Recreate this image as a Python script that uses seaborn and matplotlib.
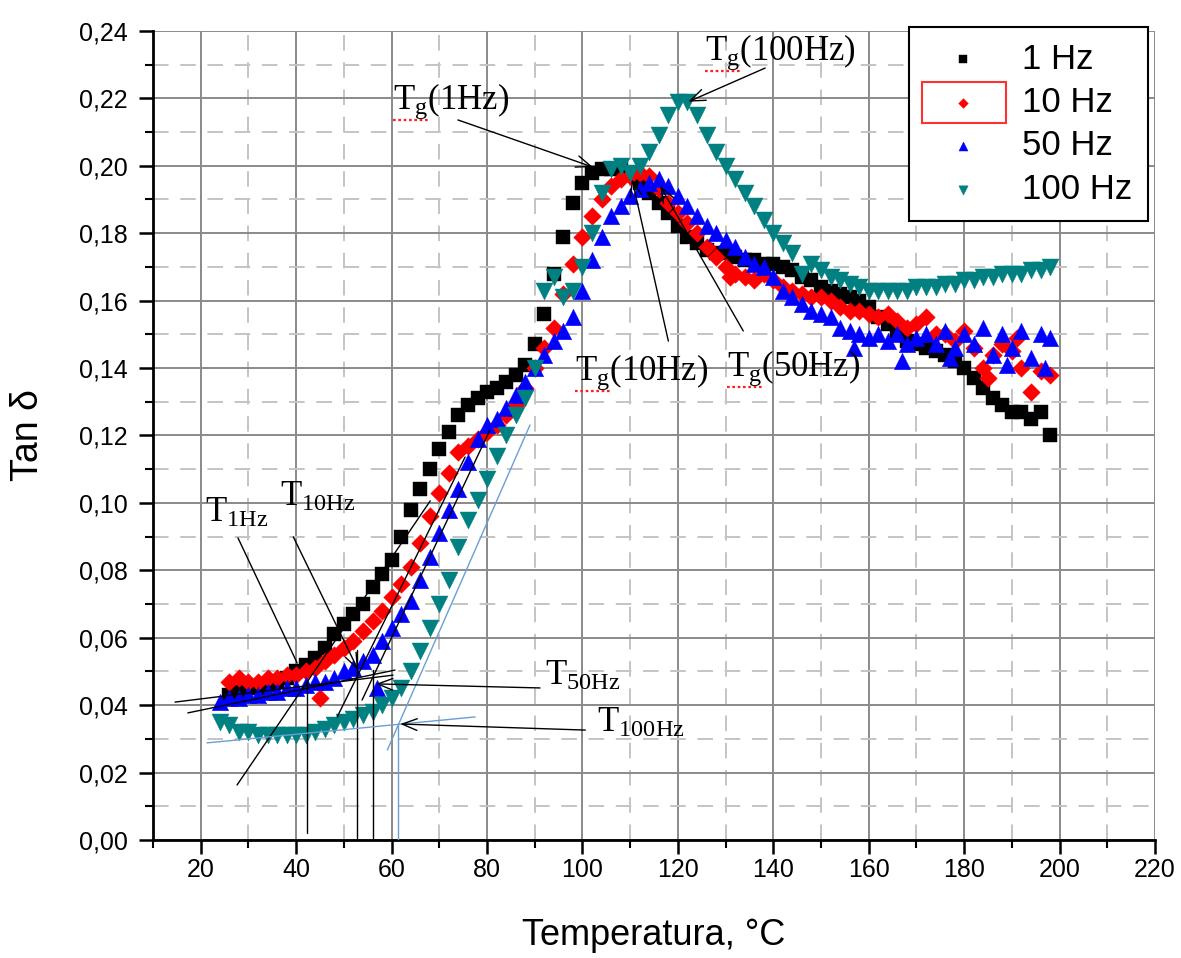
import matplotlib
matplotlib.use("Agg")
import matplotlib.pyplot as plt
from matplotlib.ticker import MultipleLocator, FuncFormatter
from matplotlib.patches import Rectangle
from matplotlib.lines import Line2D
import numpy as np
import pandas as pd
import seaborn as sns

# ---------------- data ----------------
temp_1hz = [26, 28, 30, 32, 34, 36, 38, 40, 42, 44, 46, 48, 50, 52, 54, 56, 58, 60,
            62, 64, 66, 68, 70, 72, 74, 76, 78, 80, 82, 84, 86, 88, 90, 92, 94, 96,
            98, 100, 102, 104, 106, 108, 110, 112, 114, 116, 118, 120, 122, 124, 126,
            128, 130, 132, 134, 136, 138, 140, 142, 144, 146, 148, 150, 152, 154, 156,
            158, 160, 162, 164, 166, 168, 170, 172, 174, 176, 178, 180, 182, 184, 186,
            188, 190, 192, 194, 196, 198]
tan_1hz = [0.043, 0.044, 0.045, 0.045, 0.046, 0.047, 0.048, 0.050, 0.052, 0.054, 0.057,
           0.061, 0.064, 0.067, 0.070, 0.075, 0.079, 0.083, 0.090, 0.098, 0.104, 0.110,
           0.116, 0.121, 0.126, 0.129, 0.131, 0.133, 0.134, 0.136, 0.138, 0.141, 0.147,
           0.156, 0.168, 0.179, 0.189, 0.195, 0.198, 0.199, 0.199, 0.199, 0.198, 0.195,
           0.192, 0.189, 0.186, 0.182, 0.179, 0.177, 0.175, 0.174, 0.174, 0.173, 0.172,
           0.172, 0.171, 0.171, 0.170, 0.169, 0.167, 0.166, 0.164, 0.163, 0.162, 0.161,
           0.160, 0.158, 0.155, 0.153, 0.150, 0.148, 0.147, 0.146, 0.145, 0.144, 0.142,
           0.140, 0.137, 0.134, 0.131, 0.129, 0.127, 0.127, 0.125, 0.127, 0.120]

temp_10hz = [26, 28, 30, 32, 34, 36, 38, 40, 42, 44, 46, 48, 50, 52, 54, 56, 58, 60,
             62, 64, 66, 68, 70, 72, 74, 76, 78, 80, 82, 84, 86, 88, 90, 92, 94, 96,
             98, 100, 102, 104, 106, 108, 110, 112, 114, 116, 118, 120, 122, 124, 126,
             128, 130, 132, 134, 136, 138, 140, 142, 144, 146, 148, 150, 152, 154, 156,
             158, 160, 162, 164, 166, 168, 170, 172, 174, 176, 178, 180, 182, 184, 186,
             188, 190, 192, 194, 196, 198, 45, 131, 185, 191]
tan_10hz = [0.047, 0.048, 0.047, 0.047, 0.048, 0.048, 0.049, 0.049, 0.050, 0.051, 0.053,
            0.055, 0.057, 0.059, 0.062, 0.065, 0.068, 0.072, 0.076, 0.081, 0.088, 0.096,
            0.103, 0.109, 0.115, 0.117, 0.119, 0.121, 0.123, 0.126, 0.129, 0.134, 0.140,
            0.146, 0.152, 0.162, 0.171, 0.179, 0.185, 0.190, 0.194, 0.196, 0.197, 0.198,
            0.197, 0.193, 0.189, 0.186, 0.183, 0.180, 0.176, 0.173, 0.170, 0.168, 0.167,
            0.166, 0.168, 0.166, 0.164, 0.163, 0.162, 0.161, 0.161, 0.160, 0.158, 0.157,
            0.157, 0.156, 0.155, 0.156, 0.154, 0.152, 0.153, 0.155, 0.150, 0.150, 0.148,
            0.151, 0.146, 0.140, 0.144, 0.147, 0.145, 0.140, 0.133, 0.139, 0.138,
            0.042, 0.167, 0.137, 0.149]

temp_50hz = [24, 26, 28, 30, 32, 34, 36, 38, 40, 42, 44, 46, 48, 50, 52, 54, 56, 58,
             60, 62, 64, 66, 68, 70, 72, 74, 76, 78, 80, 82, 84, 86, 88, 90, 92, 94,
             96, 98, 100, 102, 104, 106, 108, 110, 112, 114, 116, 118, 120, 122, 124,
             126, 128, 130, 132, 134, 136, 138, 140, 142, 144, 146, 148, 150, 152, 154,
             156, 158, 160, 162, 164, 166, 168, 170, 172, 174, 176, 178, 180, 182, 184,
             186, 188, 190, 192, 194, 196, 198, 57, 157, 167, 177, 189, 197]
tan_50hz = [0.041, 0.042, 0.042, 0.043, 0.043, 0.044, 0.044, 0.045, 0.045, 0.046, 0.047,
            0.047, 0.048, 0.050, 0.051, 0.053, 0.055, 0.059, 0.063, 0.067, 0.071, 0.077,
            0.084, 0.091, 0.098, 0.104, 0.112, 0.119, 0.123, 0.125, 0.128, 0.132, 0.136,
            0.140, 0.144, 0.148, 0.151, 0.155, 0.163, 0.172, 0.179, 0.185, 0.188, 0.191,
            0.193, 0.195, 0.196, 0.194, 0.191, 0.188, 0.185, 0.182, 0.180, 0.178, 0.176,
            0.173, 0.171, 0.170, 0.167, 0.163, 0.161, 0.159, 0.157, 0.156, 0.155, 0.152,
            0.151, 0.150, 0.149, 0.150, 0.148, 0.150, 0.147, 0.149, 0.150, 0.147, 0.151,
            0.146, 0.150, 0.147, 0.152, 0.144, 0.150, 0.146, 0.151, 0.143, 0.150, 0.149,
            0.045, 0.146, 0.142, 0.143, 0.141, 0.140]

temp_100hz = [24, 26, 28, 30, 32, 34, 36, 38, 40, 42, 44, 46, 48, 50, 52, 54, 56, 58,
              60, 62, 64, 66, 68, 70, 72, 74, 76, 78, 80, 82, 84, 86, 88, 90, 92, 94,
              96, 98, 100, 102, 104, 106, 108, 110, 112, 114, 116, 118, 120, 122, 124,
              126, 128, 130, 132, 134, 136, 138, 140, 142, 144, 146, 148, 150, 152, 154,
              156, 158, 160, 162, 164, 166, 168, 170, 172, 174, 176, 178, 180, 182, 184,
              186, 188, 190, 192, 194, 196, 198]
tan_100hz = [0.035, 0.034, 0.032, 0.032, 0.031, 0.031, 0.031, 0.031, 0.031, 0.031, 0.032,
             0.033, 0.034, 0.035, 0.036, 0.037, 0.038, 0.040, 0.042, 0.045, 0.050, 0.056,
             0.063, 0.070, 0.077, 0.087, 0.095, 0.101, 0.107, 0.114, 0.120, 0.126, 0.131,
             0.140, 0.163, 0.167, 0.161, 0.163, 0.170, 0.180, 0.192, 0.199, 0.200, 0.198,
             0.200, 0.204, 0.209, 0.215, 0.219, 0.219, 0.215, 0.209, 0.204, 0.200, 0.196,
             0.192, 0.188, 0.184, 0.180, 0.177, 0.174, 0.168, 0.171, 0.169, 0.167, 0.166,
             0.165, 0.164, 0.163, 0.163, 0.163, 0.163, 0.163, 0.164, 0.164, 0.164, 0.165,
             0.165, 0.166, 0.166, 0.167, 0.167, 0.168, 0.168, 0.168, 0.169, 0.169, 0.170]

series_labels = ["1 Hz", "10 Hz", "50 Hz", "100 Hz"]
series_temps = [temp_1hz, temp_10hz, temp_50hz, temp_100hz]
series_tans = [tan_1hz, tan_10hz, tan_50hz, tan_100hz]

# annotation texts and guide segments (data coordinates)
tg_labels = [r"$\mathrm{T_g(1Hz)}$", r"$\mathrm{T_g(100Hz)}$",
             r"$\mathrm{T_g(10Hz)}$", r"$\mathrm{T_g(50Hz)}$"]
tg_text_pos = [(60.3, 0.219), (125.7, 0.2338), (98.5, 0.1388), (130.3, 0.140)]
tg_arrow_from = [(73.9, 0.2136), (138.3, 0.229), (118.0, 0.148), (133.7, 0.151)]
tg_arrow_to = [(102.2, 0.1996), (122.2, 0.219), (110.4, 0.196), (116.3, 0.194)]

t_labels = [r"$\mathrm{T_{1Hz}}$", r"$\mathrm{T_{10Hz}}$",
            r"$\mathrm{T_{50Hz}}$", r"$\mathrm{T_{100Hz}}$"]
t_text_pos = [(20.9, 0.0973), (36.6, 0.1018), (92.2, 0.0489), (103.1, 0.0350)]
t_arrow_from = [(27.8, 0.0896), (39.4, 0.0899), (91.1, 0.0451), (100.6, 0.0326)]
t_arrow_to = [(40.2, 0.0525), (53.0, 0.0504), (56.7, 0.0463), (61.8, 0.0344)]
t_arrow_head = ["-", "->", "->", "->"]

black_guides = [((27.6, 0.0163), (68.1, 0.1006)),
                ((48.6, 0.0365), (75.4, 0.1136)),
                ((53.8, 0.0415), (80.6, 0.1216)),
                ((14.6, 0.0409), (60.3, 0.0489)),
                ((17.3, 0.0377), (60.7, 0.0504)),
                ((42.3, 0.0475), (42.3, 0.0020)),
                ((52.8, 0.0564), (52.8, 0.0006)),
                ((56.1, 0.0504), (56.1, 0.0006))]
blue_guides = [((59.1, 0.0267), (89.0, 0.1231)),
               ((21.3, 0.0288), (77.5, 0.0365)),
               ((61.4, 0.0344), (61.4, 0.0000))]

# ---------------- style ----------------
sns.set_theme(style="white")
plt.rcParams["font.family"] = ["Liberation Sans", "DejaVu Sans"]
plt.rcParams["text.color"] = "black"
plt.rcParams["axes.labelcolor"] = "black"
plt.rcParams["mathtext.fontset"] = "custom"
plt.rcParams["mathtext.rm"] = "Liberation Serif"
plt.rcParams["mathtext.it"] = "Liberation Serif:italic"

colors = {"1 Hz": "#000000", "10 Hz": "#ff0000", "50 Hz": "#0000ff", "100 Hz": "#008080"}
markers = {"1 Hz": "s", "10 Hz": "D", "50 Hz": "^", "100 Hz": "v"}
sizes = {"1 Hz": 95, "10 Hz": 80, "50 Hz": 140, "100 Hz": 150}

W, H = 1181, 958
fig = plt.figure(figsize=(W / 100, H / 100), dpi=100)
ax = fig.add_axes([0.1296, 0.1232, 0.8484, 0.8445])

for lab, tt, vv in zip(series_labels, series_temps, series_tans):
    df = pd.DataFrame({"Temperatura": tt, "tan": vv})
    sns.scatterplot(data=df, x="Temperatura", y="tan", color=colors[lab],
                    marker=markers[lab], s=sizes[lab], edgecolor=colors[lab],
                    linewidth=0.3, ax=ax, label=lab, zorder=3)

ax.set_xlim(10, 220)
ax.set_ylim(0, 0.24)
ax.xaxis.set_major_locator(MultipleLocator(20))
ax.xaxis.set_minor_locator(MultipleLocator(10))
ax.yaxis.set_major_locator(MultipleLocator(0.02))
ax.yaxis.set_minor_locator(MultipleLocator(0.01))
ax.yaxis.set_major_formatter(FuncFormatter(lambda v, p: f"{v:.2f}".replace(".", ",")))
ax.xaxis.set_major_formatter(FuncFormatter(lambda v, p: f"{v:.0f}"))

ax.set_axisbelow(True)
ax.grid(which="major", color="#8a8a8a", lw=1.4, ls="-")
ax.grid(which="minor", color="#c4c4c4", lw=1.4, ls=(0, (8, 6)))

for s in ["top", "right"]:
    ax.spines[s].set_visible(False)
for s in ["left", "bottom"]:
    ax.spines[s].set_color("black")
    ax.spines[s].set_linewidth(2)

ax.tick_params(which="major", direction="out", length=10, width=1.8, colors="black",
               labelsize=18, left=True, bottom=True)
ax.tick_params(axis="y", which="major", pad=8)
ax.tick_params(axis="x", which="major", pad=3)
ax.tick_params(which="minor", direction="out", length=6, width=1.5, colors="black",
               left=True, bottom=True)

ax.set_xlabel("Temperatura, °C", fontsize=26, labelpad=26)
ax.set_ylabel("Tan δ", fontsize=27, labelpad=24)

# guides and annotations
for (p0, p1) in black_guides:
    ax.plot([p0[0], p1[0]], [p0[1], p1[1]], color="black", lw=1.0, zorder=4)
for (p0, p1) in blue_guides:
    ax.plot([p0[0], p1[0]], [p0[1], p1[1]], color="#6a9fd4", lw=1.0, zorder=4)

tg_texts = []
for txt, pos, a0, a1 in zip(tg_labels, tg_text_pos, tg_arrow_from, tg_arrow_to):
    t = ax.text(pos[0], pos[1], txt, fontsize=25, ha="left", va="center",
                color="black", zorder=6)
    tg_texts.append(t)
    ax.annotate("", xy=a1, xytext=a0,
                arrowprops=dict(arrowstyle="->,head_length=0.9,head_width=0.35",
                                color="black", lw=1.0, shrinkA=0, shrinkB=0), zorder=5)

for txt, pos, a0, a1, hd in zip(t_labels, t_text_pos, t_arrow_from, t_arrow_to, t_arrow_head):
    ax.text(pos[0], pos[1], txt, fontsize=25, ha="left", va="center", color="black", zorder=6)
    style = "-" if hd == "-" else "->,head_length=0.9,head_width=0.35"
    ax.annotate("", xy=a1, xytext=a0,
                arrowprops=dict(arrowstyle=style, color="black", lw=1.0,
                                shrinkA=0, shrinkB=0), zorder=5)

handles, labels = ax.get_legend_handles_labels()
leg = ax.legend(handles, labels, loc="upper right", bbox_to_anchor=(0.993, 1.005),
                borderaxespad=0, frameon=True, fancybox=False, fontsize=25,
                markerscale=0.55, handlelength=2.2, handletextpad=0.6,
                borderpad=0.45, labelspacing=0.3)
leg.get_frame().set_edgecolor("black")
leg.get_frame().set_linewidth(1.5)
leg.get_frame().set_alpha(1)
leg.set_zorder(10)

# decorations measured after layout: red box around the 10 Hz legend symbol,
# red spell-check underline below each "Tg"
fig.canvas.draw()
renderer = fig.canvas.get_renderer()
tb = leg.get_texts()[1].get_window_extent(renderer)
cx = tb.x0 - 58
cy = (tb.y0 + tb.y1) / 2
rw, rh = 84, 41
rect = Rectangle(((cx - rw / 2) / W, (cy - rh / 2) / H), rw / W, rh / H,
                 transform=fig.transFigure, fill=False, edgecolor="#ff3030",
                 lw=1.5, zorder=20)
fig.add_artist(rect)

for t in tg_texts:
    bb = t.get_window_extent(renderer)
    probe = ax.text(0, 0, r"$\mathrm{T_g}$", fontsize=25)
    pw = probe.get_window_extent(renderer).width
    probe.remove()
    y = bb.y0 + 1
    ln = Line2D([bb.x0 / W, (bb.x0 + pw) / W], [y / H, y / H], transform=fig.transFigure,
                color="#ff2020", lw=1.6, ls=(0, (1.2, 1.2)), zorder=20)
    fig.add_artist(ln)

fig.savefig("out.png", dpi=100)
